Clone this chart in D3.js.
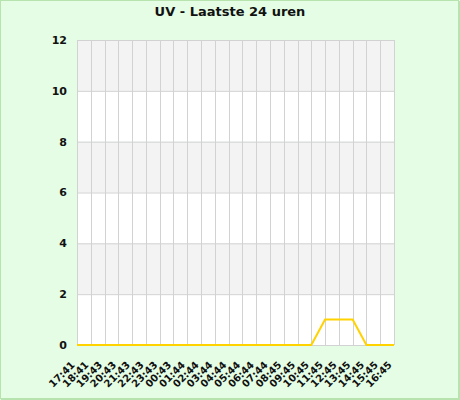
<!DOCTYPE html>
<html><head><meta charset="utf-8">
<script src="https://cdn.jsdelivr.net/npm/d3@7"></script>
<style>html,body{margin:0;padding:0;background:#e4fde4;}svg{display:block;}</style>
</head><body>
<script>
const categories = ["17:41","18:41","19:43","20:43","21:43","22:43","23:43","00:43","01:44","02:44","03:44","04:44","05:44","06:44","07:44","08:45","09:45","10:45","11:45","12:45","13:45","14:45","15:45","16:45"];
const uvValues = [0,0,0,0,0,0,0,0,0,0,0,0,0,0,0,0,0,0,1,1,1,0,0,0];
const yTicks = [0,2,4,6,8,10,12];
const title = "UV - Laatste 24 uren";

const W = 460, H = 400;
const svg = d3.select("body").append("svg").attr("width", W).attr("height", H);
svg.append("rect").attr("x",0).attr("y",0).attr("width",W).attr("height",H).attr("fill","#e4fde4");
svg.append("rect").attr("x",0.5).attr("y",0.5).attr("width",W-2).attr("height",H-2)
  .attr("fill","none").attr("stroke","#b7e4ae").attr("stroke-width",1);
svg.append("rect").attr("x",1).attr("y",H-2).attr("width",W-1).attr("height",2).attr("fill","#b7e4ae");
svg.append("rect").attr("x",W-2).attr("y",1).attr("width",2).attr("height",H-1).attr("fill","#b7e4ae");

const L = 77, R = 394, T = 40, B = 345;
const x = d3.scalePoint().domain(categories).range([L, R]);
const y = d3.scaleLinear().domain([0, 12]).range([B, T]);

// bands
for (let i = 0; i < yTicks.length - 1; i++) {
  svg.append("rect").attr("x", L).attr("width", R - L)
    .attr("y", y(yTicks[i+1])).attr("height", y(yTicks[i]) - y(yTicks[i+1]))
    .attr("fill", i % 2 === 1 ? "#f3f3f3" : "#ffffff");
}
// grid lines
svg.append("g").selectAll("line").data(yTicks).join("line")
  .attr("x1", L).attr("x2", R).attr("y1", d => y(d)+0.5).attr("y2", d => y(d)+0.5)
  .attr("stroke", "#d2d2d2").attr("stroke-width", 1);
svg.append("g").selectAll("line").data(categories).join("line")
  .attr("x1", d => Math.round(x(d))+0.5).attr("x2", d => Math.round(x(d))+0.5)
  .attr("y1", T).attr("y2", B)
  .attr("stroke", "#d2d2d2").attr("stroke-width", 1);

// y labels
svg.append("g").selectAll("text").data(yTicks).join("text")
  .attr("x", 67).attr("y", d => y(d)).attr("dy", "0.35em")
  .attr("text-anchor", "end").attr("font-family", "DejaVu Sans").attr("font-weight", "bold")
  .attr("font-size", 11).attr("fill", "#111").text(d => d);

// x labels
svg.append("g").selectAll("text").data(categories).join("text")
  .attr("transform", d => `translate(${x(d)-4},${B+18}) rotate(-45)`)
  .attr("text-anchor", "end").attr("dy", "0.35em")
  .attr("font-family", "DejaVu Sans").attr("font-weight", "bold")
  .attr("font-size", 10).attr("fill", "#111").text(d => d);

// line
const line = d3.line().x((d,i) => x(categories[i])).y(d => y(d));
svg.append("path").datum(uvValues).attr("d", line)
  .attr("fill", "none").attr("stroke", "#ffd200").attr("stroke-width", 2);

// title
svg.append("text").attr("x", 230).attr("y", 16).attr("text-anchor", "middle")
  .attr("font-family", "DejaVu Sans").attr("font-weight", "bold").attr("font-size", 13)
  .attr("fill", "#111").text(title);
</script>
</body></html>
